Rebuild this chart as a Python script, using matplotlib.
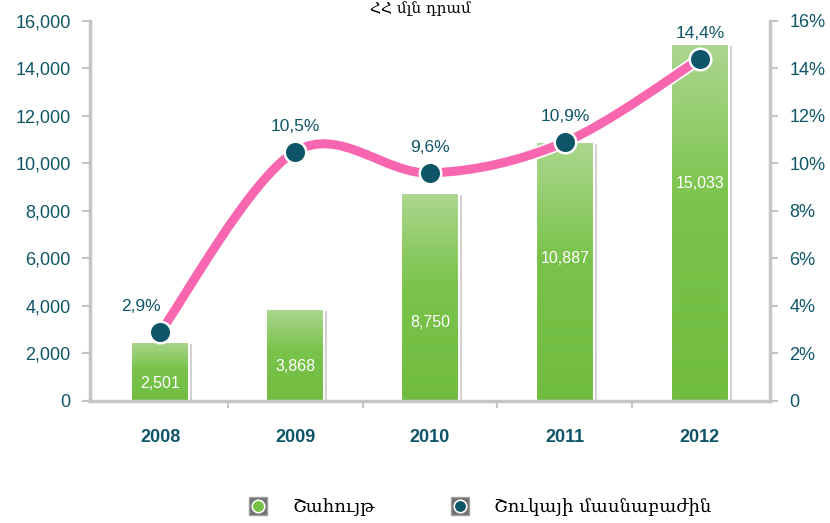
import numpy as np
import matplotlib
matplotlib.use("Agg")
import matplotlib.pyplot as plt
import matplotlib.patheffects as pe
from matplotlib.path import Path
from matplotlib.patches import PathPatch
from matplotlib.lines import Line2D
from matplotlib.legend_handler import HandlerTuple
from matplotlib.colors import LinearSegmentedColormap

# data
years = ["2008", "2009", "2010", "2011", "2012"]
profit = [2501, 3868, 8750, 10887, 15033]
share = [2.9, 10.5, 9.6, 10.9, 14.4]
share_labels = ["2,9%", "10,5%", "9,6%", "10,9%", "14,4%"]
legend_names = ["Շահույթ", "Շուկայի մասնաբաժին"]
title = "ՀՀ մլն դրամ"

# where the white value label sits inside each bar (fraction of bar height)
label_frac = [0.30, 0.37, 0.38, 0.55, 0.61]

teal = "#0d5567"
pink = "#f866b0"
grid_grey = "#c4c4c4"
green_cmap = LinearSegmentedColormap.from_list(
    "bar", [(0.0, "#70bc40"), (0.55, "#7ac34b"), (1.0, "#acd68f")])

fig = plt.figure(figsize=(8.3, 5.23), dpi=100)
ax = fig.add_axes([0.1084, 0.2333, 0.8193, 0.7266])
ax2 = ax.twinx()

x = np.arange(len(years))
width = 0.43

# soft shadow behind the bars
shadow = ax.bar(x, profit, width=width, color="none", edgecolor="none", zorder=1)
for b in shadow:
    b.set_path_effects([pe.SimplePatchShadow(offset=(2, -1.5), shadow_rgbFace="#9a9a9a", alpha=0.45)])

# bars with vertical gradient
grad = np.linspace(0, 1, 256).reshape(-1, 1)
bars = ax.bar(x, profit, width=width, color="none", edgecolor="white",
              linewidth=1.5, zorder=2)
for b in bars:
    bx, bw, bh = b.get_x(), b.get_width(), b.get_height()
    im = ax.imshow(grad, cmap=green_cmap, aspect="auto", origin="lower",
                   extent=(bx, bx + bw, 0, bh), zorder=1.5)
    im.set_clip_path(b)

for i, v in enumerate(profit):
    ax.text(x[i], v * label_frac[i], f"{v:,}", color="white", ha="center",
            va="center", fontsize=11.5, family="Liberation Sans", zorder=3)

ax.set_xlim(-0.52, len(years) - 1 + 0.52)
ax.set_ylim(0, 16000)
ax.set_yticks(np.arange(0, 16001, 2000))
ax.set_yticklabels([f"{v:,}" for v in range(0, 16001, 2000)])
ax.set_xticks(x)
ax.set_xticklabels(years)
ax.set_xticks(np.arange(0.5, len(years) - 1, 1), minor=True)

# smooth share line (catmull-rom as bezier path)
pts = np.column_stack([x, share]).astype(float)
ext = np.vstack([pts[0], pts, pts[-1]])
verts = [tuple(pts[0])]
codes = [Path.MOVETO]
for i in range(len(pts) - 1):
    p0, p1, p2, p3 = ext[i], ext[i + 1], ext[i + 2], ext[i + 3]
    c1 = p1 + (p2 - p0) / 6
    c2 = p2 - (p3 - p1) / 6
    verts += [tuple(c1), tuple(c2), tuple(p2)]
    codes += [Path.CURVE4] * 3
curve = PathPatch(Path(verts, codes), fill=False, edgecolor=pink, linewidth=6.5,
                  capstyle="round", zorder=4,
                  path_effects=[pe.Stroke(linewidth=9, foreground="white"), pe.Normal()])
ax2.add_patch(curve)
ax2.plot(x, share, "o", markersize=15.5, markerfacecolor=teal,
         markeredgecolor="white", markeredgewidth=1.8, zorder=5)

for i, s in enumerate(share_labels):
    dx = -14 if i == 0 else 0
    ax2.annotate(s, (x[i], share[i]), xytext=(dx, 13), textcoords="offset points",
                 ha="center", va="bottom", color=teal, fontsize=12.5,
                 family="Liberation Sans", zorder=6)

ax2.set_ylim(0, 16)
ax2.set_yticks(np.arange(0, 17, 2))
ax2.set_yticklabels(["0"] + [f"{v}%" for v in range(2, 17, 2)])

for a in (ax, ax2):
    for s in a.spines.values():
        s.set_visible(False)
ax.spines["left"].set_visible(True)
ax.spines["bottom"].set_visible(True)
ax2.spines["right"].set_visible(True)
for s in (ax.spines["left"], ax.spines["bottom"], ax2.spines["right"]):
    s.set_color(grid_grey)
    s.set_linewidth(2.5)

ax.tick_params(axis="y", colors=grid_grey, length=6, width=1.5, pad=8,
               labelcolor=teal, labelsize=13)
ax2.tick_params(axis="y", colors=grid_grey, length=6, width=1.5, pad=8,
                labelcolor=teal, labelsize=13)
ax.tick_params(axis="x", which="major", length=0, pad=20, labelcolor=teal, labelsize=13)
ax.tick_params(axis="x", which="minor", length=5, width=1.5, color=grid_grey)
for lab in ax.get_yticklabels() + ax2.get_yticklabels() + ax.get_xticklabels():
    lab.set_family("Liberation Sans")
for lab in ax.get_xticklabels():
    lab.set_fontweight("bold")

# title sits tight against the top edge
fig.text(0.507, 1 - 1 / 523, title, ha="center", va="top",
         fontsize=11, family="DejaVu Serif", color="black")

# legend
box = dict(marker="s", markersize=13, markerfacecolor="#707070",
           markeredgecolor="#a0a0a0", linestyle="none")
h1 = (Line2D([], [], **box),
      Line2D([], [], marker="o", markersize=9, markerfacecolor="#74c043",
             markeredgecolor="white", markeredgewidth=1.2, linestyle="none"))
h2 = (Line2D([], [], **box),
      Line2D([], [], marker="o", markersize=9, markerfacecolor=teal,
             markeredgecolor="white", markeredgewidth=1.2, linestyle="none"))
fig.legend([h1, h2], legend_names, handler_map={tuple: HandlerTuple(ndivide=1)},
           loc="center", bbox_to_anchor=(0.578, 0.03), ncol=2, frameon=False,
           handlelength=1.2, handletextpad=1.3, columnspacing=4.1,
           prop={"family": "DejaVu Serif", "size": 13})

fig.savefig("out.png", dpi=100)
